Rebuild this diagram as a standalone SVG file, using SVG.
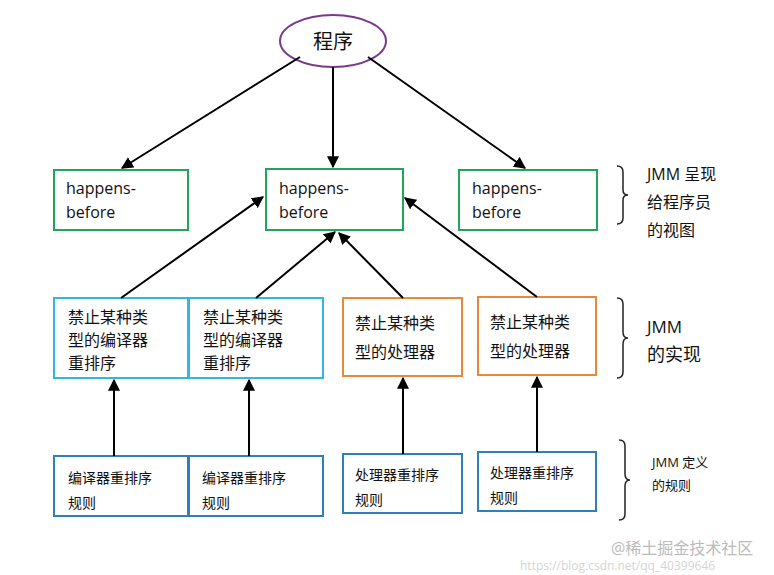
<svg xmlns="http://www.w3.org/2000/svg" width="774" height="575" viewBox="0 0 774 575">
<style>
text{font-family:"Open Sans","Noto Sans CJK SC",sans-serif;fill:#111}
.g{fill:#fff;stroke:#22a55a;stroke-width:2}
.lb{fill:#fff;stroke:#33b5e5;stroke-width:2}
.o{fill:#fff;stroke:#e8883a;stroke-width:2}
.b{fill:#fff;stroke:#2f80b8;stroke-width:2}
.c line{stroke:#000;stroke-width:2;marker-end:url(#a)}
.br{fill:none;stroke:#222;stroke-width:1.5}
</style>
<defs><marker id="a" viewBox="0 0 10 10" refX="9" refY="5" markerWidth="6" markerHeight="6" orient="auto" markerUnits="strokeWidth"><path d="M0,0L10,5L0,10z" fill="#000"/></marker></defs>
<rect width="774" height="575" fill="#fff"/>
<g id="prog"><ellipse cx="333" cy="41" rx="53" ry="26" fill="#fff" stroke="#7a3a8c" stroke-width="2"/><text x="333" y="49" font-size="20" text-anchor="middle">程序</text></g>
<g id="hb1"><rect class="g" x="54" y="170" width="134" height="60"/><text x="66" y="194" font-size="16">happens-</text><text x="66" y="218" font-size="16">before</text></g>
<g id="hb2"><rect class="g" x="266" y="169" width="137" height="61"/><text x="279" y="194" font-size="16">happens-</text><text x="279" y="218" font-size="16">before</text></g>
<g id="hb3"><rect class="g" x="459" y="170" width="138" height="60"/><text x="472" y="194" font-size="16">happens-</text><text x="472" y="218" font-size="16">before</text></g>
<g id="m1"><rect class="lb" x="54" y="298" width="134" height="80"/><text font-size="16" fill="#333"><tspan x="68" y="323">禁止某种类</tspan><tspan x="68" y="346">型的编译器</tspan><tspan x="68" y="369">重排序</tspan></text></g>
<g id="m2"><rect class="lb" x="189" y="298" width="134" height="80"/><text font-size="16" fill="#333"><tspan x="203" y="323">禁止某种类</tspan><tspan x="203" y="346">型的编译器</tspan><tspan x="203" y="369">重排序</tspan></text></g>
<g id="m3"><rect class="o" x="343" y="298" width="119" height="78"/><text font-size="16"><tspan x="355" y="329">禁止某种类</tspan><tspan x="355" y="358">型的处理器</tspan></text></g>
<g id="m4"><rect class="o" x="478" y="297" width="118" height="78"/><text font-size="16"><tspan x="490" y="328">禁止某种类</tspan><tspan x="490" y="357">型的处理器</tspan></text></g>
<g id="r1"><rect class="b" x="54" y="456" width="134" height="60"/><text x="68" y="483" font-size="14">编译器重排序</text><text x="68" y="508" font-size="14">规则</text></g>
<g id="r2"><rect class="b" x="189" y="456" width="134" height="60"/><text x="202" y="483" font-size="14">编译器重排序</text><text x="202" y="508" font-size="14">规则</text></g>
<g id="r3"><rect class="b" x="343" y="454" width="119" height="59"/><text x="355" y="480" font-size="14">处理器重排序</text><text x="355" y="505" font-size="14">规则</text></g>
<g id="r4"><rect class="b" x="478" y="452" width="118" height="59"/><text x="490" y="478" font-size="14">处理器重排序</text><text x="490" y="503" font-size="14">规则</text></g>
<g class="c">
<line x1="300" y1="57" x2="122" y2="168"/>
<line x1="333" y1="67" x2="333" y2="167"/>
<line x1="368" y1="57" x2="525" y2="168"/>
<line x1="121" y1="298" x2="263" y2="197"/>
<line x1="256" y1="298" x2="335" y2="232"/>
<line x1="403" y1="298" x2="339" y2="233"/>
<line x1="537" y1="297" x2="405" y2="198"/>
<line x1="114" y1="456" x2="114" y2="380"/>
<line x1="249" y1="456" x2="249" y2="380"/>
<line x1="403" y1="454" x2="403" y2="378"/>
<line x1="537" y1="452" x2="537" y2="377"/>
</g>
<g id="braces">
<path class="br" d="M617,166 Q623,166 623,172 L623,190 Q623,195 628,195 Q623,195 623,200 L623,218 Q623,224 617,224"/>
<path class="br" d="M617,298 Q623,298 623,304 L623,332 Q623,338 628,338 Q623,338 623,344 L623,372 Q623,378 617,378"/>
<path class="br" d="M619,440 Q625,440 625,446 L625,474 Q625,480 630,480 Q625,480 625,486 L625,514 Q625,520 619,520"/>
</g>
<g id="labels">
<text x="647" y="180" font-size="16">JMM 呈现</text><text x="647" y="208" font-size="16">给程序员</text><text x="647" y="236" font-size="16">的视图</text>
<text x="647" y="333" font-size="17">JMM</text><text x="647" y="361" font-size="18">的实现</text>
<text x="652" y="467" font-size="13">JMM 定义</text><text x="652" y="490" font-size="13">的规则</text>
</g>
<text x="520" y="570" font-size="12" style="fill:#d4d4d4">https://blog.csdn.net/qq_40399646</text>
<text x="611" y="554" font-size="16" style="fill:#bbb">@稀土掘金技术社区</text>
</svg>
